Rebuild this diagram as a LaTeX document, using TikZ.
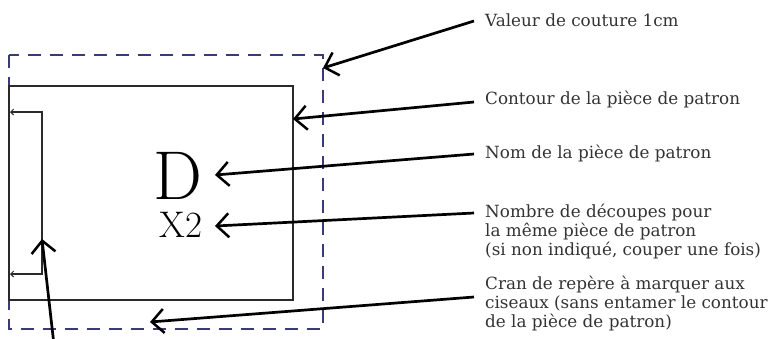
\documentclass[tikz,border=0pt]{standalone}
\usepackage{fontspec}
\newfontfamily\labfont{DejaVu Serif}
\usetikzlibrary{arrows.meta}
\definecolor{navy}{HTML}{3A3A78}
\definecolor{txt}{HTML}{333333}
\definecolor{edge}{HTML}{2A2A2A}
\begin{document}
\begin{tikzpicture}[x=1pt,y=-1pt,
  lab/.style={anchor=base west,inner sep=0pt,font=\labfont\fontsize{16.8}{19}\selectfont,text=txt,align=left},
  callout/.style={line width=2.7pt,-{Straight Barb[length=12pt,width=24pt,line width=2.5pt]}},
  notch/.style={line width=1.3pt,draw=edge,-{Straight Barb[length=3pt,width=6pt,line width=1pt]}},
  seam/.style={draw=navy,line width=1.2pt,dash pattern=on 13pt off 9pt},
  outline/.style={draw=edge,line width=1.5pt}]
\useasboundingbox (0,0) rectangle (771,338);
% seam allowance and outline
\draw[seam] (9,55) rectangle (323,329);
\draw[outline] (9,86) rectangle (293,300);
\coordinate (sa) at (323,68);
\coordinate (ol) at (293,119);
\coordinate (nb) at (150,322);
% name and count
\node[inner sep=0pt,font=\fontsize{69}{69}\selectfont] (D) at (177.5,175.5) {D};
\node[inner sep=0pt,font=\fontsize{37}{37}\selectfont] (X) at (181,224.5) {X2};
\coordinate (Dt) at (215,175);
\coordinate (Xt) at (215,226);
% notch bracket
\coordinate (nt) at (42,112);
\coordinate (nbm) at (42,274);
\coordinate (ntl) at (10,112);
\coordinate (nbl) at (10,274);
\draw[notch] (nt) -- (nbm) -- (nbl);
\draw[notch] (nbm) -- (nt) -- (ntl);
\coordinate (nm) at (42,239);
\coordinate (nstart) at (54,345);
\draw[callout] (nstart) -- (nm);
% labels (base = baseline of last line)
\node[lab] (l1) at (485,26) {Valeur de couture 1cm};
\node[lab] (l2) at (485,104) {Contour de la pièce de patron};
\node[lab] (l3) at (485,158) {Nom de la pièce de patron};
\node[lab] (l4) at (485,255) {Nombre de découpes pour\\la même pièce de patron\\(si non indiqué, couper une fois)};
\node[lab] (l5) at (485,327) {Cran de repère à marquer aux\\ciseaux (sans entamer le contour\\de la pièce de patron)};
\coordinate (s1) at (474,21);
\coordinate (s2) at (474,102);
\coordinate (s3) at (474,154);
\coordinate (s4) at (474,213);
\coordinate (s5) at (474,297);
\draw[callout] (s1) -- (sa);
\draw[callout] (s2) -- (ol);
\draw[callout] (s3) -- (Dt);
\draw[callout] (s4) -- (Xt);
\draw[callout] (s5) -- (nb);
\end{tikzpicture}
\end{document}
